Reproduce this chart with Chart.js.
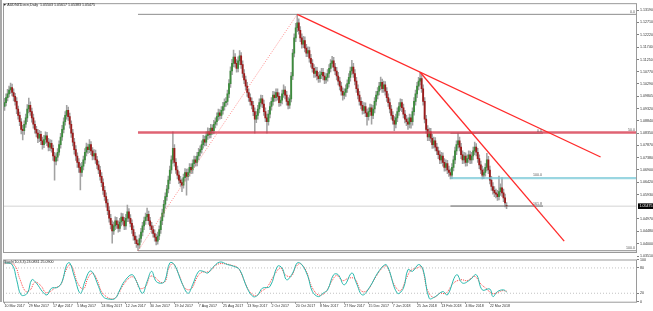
<!DOCTYPE html>
<html>
<head>
<meta charset="utf-8">
<script src="https://cdn.jsdelivr.net/npm/chart.js@4.4.1/dist/chart.umd.min.js"></script>
<style>
  html, body { margin: 0; padding: 0; background: #fff; }
  #wrap { position: relative; width: 653px; height: 311px; overflow: hidden; font-family: "Liberation Sans", Arial, sans-serif; }
  #mainCanvas { position: absolute; left: 0; top: 0; }
  #stochCanvas { position: absolute; left: 0; top: 254px; }
  #edge { position: absolute; left: 0; top: 0; width: 2px; height: 302px; background: #a9a9a9; }
  .hdr { position: absolute; font-size: 3.6px; color: #202020; white-space: nowrap; line-height: 4px; }
</style>
</head>
<body>
<div id="wrap">
  <canvas id="mainCanvas" width="653" height="262"></canvas>
  <canvas id="stochCanvas" width="653" height="57"></canvas>
  <div id="edge"></div>
  <div class="hdr" style="left:3px;top:3px;">▼ AUDNZD.ecn,Daily&nbsp; 1.05503 1.05617 1.05383 1.05475</div>
  <div class="hdr" style="left:4px;top:260px;">Stoch(10,3,3) 23.0831 25.0900</div>
</div>
<script>
// ================= DATA : DAILY CANDLES (bar 0 = 10 Mar 2017) =================
const opens = [
  1.0940, 1.0955, 1.0975, 1.0990, 1.1005, 1.1015, 1.0995, 1.0980, 1.0960, 1.0930,
  1.0905, 1.0880, 1.0850, 1.0845, 1.0870, 1.0895, 1.0930, 1.0945, 1.0920, 1.0895,
  1.0870, 1.0850, 1.0835, 1.0815, 1.0830, 1.0805, 1.0790, 1.0810, 1.0825, 1.0800,
  1.0780, 1.0795, 1.0775, 1.0745, 1.0725, 1.0740, 1.0760, 1.0790, 1.0820, 1.0850,
  1.0880, 1.0905, 1.0925, 1.0900, 1.0870, 1.0835, 1.0800, 1.0770, 1.0745, 1.0720,
  1.0700, 1.0680, 1.0705, 1.0730, 1.0760, 1.0780, 1.0770, 1.0790, 1.0765, 1.0745,
  1.0755, 1.0730, 1.0710, 1.0690, 1.0665, 1.0640, 1.0610, 1.0585, 1.0560, 1.0530,
  1.0500, 1.0475, 1.0450, 1.0470, 1.0490, 1.0475, 1.0460, 1.0485, 1.0505, 1.0490,
  1.0470, 1.0500, 1.0525, 1.0500, 1.0480, 1.0455, 1.0430, 1.0415, 1.0400, 1.0395,
  1.0420, 1.0445, 1.0470, 1.0490, 1.0505, 1.0515, 1.0490, 1.0470, 1.0455, 1.0440,
  1.0425, 1.0410, 1.0430, 1.0455, 1.0490, 1.0520, 1.0555, 1.0585, 1.0615, 1.0650,
  1.0690, 1.0730, 1.0775, 1.0720, 1.0690, 1.0670, 1.0650, 1.0640, 1.0630, 1.0660,
  1.0680, 1.0665, 1.0680, 1.0700, 1.0690, 1.0715, 1.0730, 1.0720, 1.0745, 1.0760,
  1.0770, 1.0790, 1.0810, 1.0800, 1.0825, 1.0840, 1.0830, 1.0855, 1.0845, 1.0870,
  1.0880, 1.0900, 1.0915, 1.0905, 1.0925, 1.0940, 1.0955, 1.0960, 1.0990, 1.1030,
  1.1080, 1.1110, 1.1135, 1.1110, 1.1090, 1.1120, 1.1140, 1.1105, 1.1070, 1.1045,
  1.1020, 1.0995, 1.0975, 1.0960, 1.0945, 1.0920, 1.0890, 1.0905, 1.0930, 1.0955,
  1.0970, 1.0950, 1.0920, 1.0895, 1.0880, 1.0910, 1.0940, 1.0960, 1.0985, 1.0975,
  1.0995, 1.0980, 1.0955, 1.0965, 1.0990, 1.1005, 1.0985, 1.0960, 1.0945, 1.0970,
  1.1060, 1.1150, 1.1210, 1.1250, 1.1270, 1.1240, 1.1210, 1.1185, 1.1200, 1.1170,
  1.1150, 1.1160, 1.1130, 1.1110, 1.1090, 1.1070, 1.1080, 1.1060, 1.1050, 1.1065,
  1.1075, 1.1060, 1.1045, 1.1055, 1.1070, 1.1090, 1.1110, 1.1120, 1.1095, 1.1080,
  1.1060, 1.1040, 1.1020, 1.1000, 1.0985, 1.0995, 1.1010, 1.1030, 1.1055, 1.1080,
  1.1095, 1.1070, 1.1040, 1.1010, 1.0985, 1.0960, 1.0945, 1.0925, 1.0940, 1.0915,
  1.0900, 1.0920, 1.0935, 1.0905, 1.0930, 1.0960, 1.0985, 1.1000, 1.1020, 1.1035,
  1.1010, 1.1025, 1.1000, 1.0975, 1.0955, 1.0930, 1.0905, 1.0885, 1.0870, 1.0895,
  1.0920, 1.0940, 1.0955, 1.0935, 1.0910, 1.0890, 1.0880, 1.0870, 1.0895, 1.0880,
  1.0920, 1.0960, 1.0990, 1.1020, 1.1040, 1.1050, 1.1010, 1.0960, 1.0890, 1.0850,
  1.0820, 1.0840, 1.0815, 1.0790, 1.0805, 1.0780, 1.0765, 1.0750, 1.0730, 1.0745,
  1.0720, 1.0700, 1.0715, 1.0690, 1.0680, 1.0670, 1.0700, 1.0730, 1.0765, 1.0790,
  1.0805, 1.0780, 1.0750, 1.0730, 1.0745, 1.0720, 1.0735, 1.0750, 1.0730, 1.0745,
  1.0765, 1.0780, 1.0760, 1.0735, 1.0710, 1.0690, 1.0670, 1.0680, 1.0700, 1.0730,
  1.0690, 1.0650, 1.0625, 1.0610, 1.0600, 1.0595, 1.0585, 1.0605, 1.0620, 1.0600,
  1.0580, 1.0550
];
const highs = [
  1.0972, 1.0990, 1.1008, 1.1020, 1.1032, 1.1028, 1.1010, 1.0992, 1.0975, 1.0942,
  1.0918, 1.0892, 1.0866, 1.0884, 1.0910, 1.0948, 1.0973, 1.0958, 1.0934, 1.0910,
  1.0884, 1.0862, 1.0850, 1.0846, 1.0842, 1.0820, 1.0826, 1.0840, 1.0838, 1.0815,
  1.0810, 1.0808, 1.0788, 1.0760, 1.0755, 1.0774, 1.0805, 1.0834, 1.0866, 1.0895,
  1.0920, 1.0945, 1.0938, 1.0914, 1.0884, 1.0850, 1.0815, 1.0786, 1.0758, 1.0735,
  1.0715, 1.0720, 1.0745, 1.0774, 1.0796, 1.0792, 1.0810, 1.0802, 1.0778, 1.0770,
  1.0768, 1.0744, 1.0725, 1.0704, 1.0680, 1.0655, 1.0626, 1.0600, 1.0574, 1.0546,
  1.0515, 1.0490, 1.0485, 1.0506, 1.0504, 1.0490, 1.0500, 1.0520, 1.0518, 1.0504,
  1.0515, 1.0552, 1.0538, 1.0514, 1.0494, 1.0470, 1.0444, 1.0430, 1.0414, 1.0435,
  1.0460, 1.0484, 1.0505, 1.0520, 1.0540, 1.0528, 1.0504, 1.0484, 1.0470, 1.0454,
  1.0438, 1.0445, 1.0470, 1.0505, 1.0536, 1.0570, 1.0600, 1.0630, 1.0666, 1.0705,
  1.0746, 1.0840, 1.0790, 1.0735, 1.0705, 1.0684, 1.0665, 1.0655, 1.0674, 1.0696,
  1.0694, 1.0695, 1.0715, 1.0714, 1.0730, 1.0745, 1.0744, 1.0760, 1.0775, 1.0785,
  1.0805, 1.0826, 1.0824, 1.0840, 1.0856, 1.0854, 1.0870, 1.0868, 1.0886, 1.0895,
  1.0915, 1.0930, 1.0928, 1.0940, 1.0956, 1.0970, 1.0975, 1.1005, 1.1046, 1.1096,
  1.1126, 1.1162, 1.1148, 1.1125, 1.1136, 1.1160, 1.1152, 1.1120, 1.1085, 1.1060,
  1.1035, 1.1010, 1.0990, 1.0974, 1.0960, 1.0935, 1.0920, 1.0945, 1.0970, 1.0985,
  1.0984, 1.0965, 1.0935, 1.0910, 1.0925, 1.0955, 1.0975, 1.1000, 1.0998, 1.1010,
  1.1010, 1.0994, 1.0980, 1.1005, 1.1025, 1.1018, 1.1000, 1.0975, 1.0985, 1.1075,
  1.1165, 1.1226, 1.1268, 1.1303, 1.1285, 1.1255, 1.1226, 1.1216, 1.1214, 1.1185,
  1.1175, 1.1174, 1.1145, 1.1125, 1.1105, 1.1095, 1.1094, 1.1075, 1.1080, 1.1090,
  1.1090, 1.1074, 1.1070, 1.1085, 1.1105, 1.1125, 1.1138, 1.1134, 1.1110, 1.1094,
  1.1075, 1.1055, 1.1035, 1.1014, 1.1010, 1.1025, 1.1045, 1.1070, 1.1095, 1.1122,
  1.1110, 1.1085, 1.1055, 1.1025, 1.1000, 1.0975, 1.0960, 1.0955, 1.0954, 1.0930,
  1.0935, 1.0950, 1.0948, 1.0945, 1.0975, 1.1000, 1.1015, 1.1035, 1.1056, 1.1048,
  1.1040, 1.1038, 1.1015, 1.0990, 1.0970, 1.0945, 1.0920, 1.0900, 1.0910, 1.0935,
  1.0955, 1.0970, 1.0968, 1.0950, 1.0925, 1.0905, 1.0895, 1.0910, 1.0908, 1.0935,
  1.0975, 1.1005, 1.1035, 1.1055, 1.1075, 1.1065, 1.1025, 1.0975, 1.0905, 1.0865,
  1.0855, 1.0854, 1.0830, 1.0820, 1.0818, 1.0795, 1.0780, 1.0765, 1.0760, 1.0758,
  1.0735, 1.0730, 1.0728, 1.0705, 1.0695, 1.0715, 1.0745, 1.0780, 1.0805, 1.0835,
  1.0820, 1.0795, 1.0765, 1.0760, 1.0758, 1.0750, 1.0765, 1.0764, 1.0760, 1.0780,
  1.0800, 1.0794, 1.0775, 1.0750, 1.0725, 1.0705, 1.0695, 1.0715, 1.0756, 1.0744,
  1.0705, 1.0665, 1.0640, 1.0625, 1.0615, 1.0610, 1.0666, 1.0635, 1.0660, 1.0615,
  1.0595, 1.0562
];
const lows = [
  1.0925, 1.0942, 1.0962, 1.0978, 1.0992, 1.0982, 1.0962, 1.0945, 1.0912, 1.0890,
  1.0865, 1.0832, 1.0808, 1.0830, 1.0858, 1.0880, 1.0915, 1.0905, 1.0878, 1.0855,
  1.0835, 1.0820, 1.0798, 1.0802, 1.0790, 1.0772, 1.0778, 1.0795, 1.0786, 1.0765,
  1.0766, 1.0760, 1.0728, 1.0650, 1.0710, 1.0726, 1.0748, 1.0776, 1.0806, 1.0836,
  1.0866, 1.0890, 1.0885, 1.0855, 1.0818, 1.0785, 1.0752, 1.0728, 1.0700, 1.0680,
  1.0611, 1.0665, 1.0690, 1.0716, 1.0745, 1.0755, 1.0758, 1.0750, 1.0730, 1.0732,
  1.0716, 1.0695, 1.0675, 1.0650, 1.0624, 1.0594, 1.0570, 1.0544, 1.0514, 1.0484,
  1.0458, 1.0402, 1.0436, 1.0455, 1.0460, 1.0445, 1.0448, 1.0470, 1.0476, 1.0455,
  1.0456, 1.0486, 1.0486, 1.0466, 1.0440, 1.0414, 1.0400, 1.0385, 1.0372, 1.0382,
  1.0406, 1.0430, 1.0455, 1.0476, 1.0490, 1.0476, 1.0455, 1.0440, 1.0425, 1.0410,
  1.0395, 1.0398, 1.0416, 1.0440, 1.0475, 1.0505, 1.0540, 1.0570, 1.0600, 1.0636,
  1.0676, 1.0716, 1.0705, 1.0676, 1.0655, 1.0636, 1.0625, 1.0605, 1.0618, 1.0646,
  1.0591, 1.0650, 1.0666, 1.0675, 1.0676, 1.0700, 1.0705, 1.0706, 1.0730, 1.0745,
  1.0756, 1.0776, 1.0785, 1.0786, 1.0810, 1.0815, 1.0816, 1.0830, 1.0832, 1.0856,
  1.0866, 1.0885, 1.0890, 1.0892, 1.0910, 1.0926, 1.0940, 1.0946, 1.0975, 1.1015,
  1.1065, 1.1096, 1.1095, 1.1075, 1.1076, 1.1105, 1.1090, 1.1055, 1.1030, 1.1005,
  1.0980, 1.0960, 1.0945, 1.0930, 1.0904, 1.0835, 1.0876, 1.0890, 1.0915, 1.0940,
  1.0935, 1.0905, 1.0880, 1.0835, 1.0866, 1.0895, 1.0926, 1.0945, 1.0960, 1.0962,
  1.0965, 1.0940, 1.0942, 1.0950, 1.0976, 1.0970, 1.0945, 1.0930, 1.0932, 1.0958,
  1.1046, 1.1135, 1.1195, 1.1235, 1.1225, 1.1195, 1.1170, 1.1172, 1.1155, 1.1136,
  1.1136, 1.1115, 1.1095, 1.1075, 1.1055, 1.1056, 1.1045, 1.1035, 1.1036, 1.1050,
  1.1045, 1.1030, 1.1032, 1.1040, 1.1055, 1.1076, 1.1095, 1.1080, 1.1065, 1.1045,
  1.1025, 1.1005, 1.0985, 1.0965, 1.0970, 1.0980, 1.0995, 1.1016, 1.1040, 1.1066,
  1.1055, 1.1025, 1.0995, 1.0970, 1.0945, 1.0930, 1.0910, 1.0912, 1.0900, 1.0866,
  1.0886, 1.0905, 1.0870, 1.0892, 1.0915, 1.0945, 1.0970, 1.0986, 1.1005, 1.0995,
  1.0995, 1.0985, 1.0960, 1.0940, 1.0915, 1.0890, 1.0870, 1.0845, 1.0856, 1.0880,
  1.0905, 1.0925, 1.0920, 1.0895, 1.0875, 1.0865, 1.0850, 1.0856, 1.0855, 1.0866,
  1.0906, 1.0945, 1.0975, 1.1005, 1.1025, 1.0995, 1.0945, 1.0875, 1.0835, 1.0805,
  1.0805, 1.0800, 1.0775, 1.0776, 1.0765, 1.0750, 1.0735, 1.0715, 1.0716, 1.0705,
  1.0685, 1.0686, 1.0675, 1.0665, 1.0655, 1.0656, 1.0686, 1.0715, 1.0750, 1.0776,
  1.0765, 1.0735, 1.0715, 1.0716, 1.0705, 1.0706, 1.0720, 1.0715, 1.0716, 1.0730,
  1.0750, 1.0745, 1.0720, 1.0695, 1.0675, 1.0655, 1.0656, 1.0666, 1.0686, 1.0675,
  1.0635, 1.0610, 1.0595, 1.0585, 1.0580, 1.0570, 1.0572, 1.0590, 1.0586, 1.0565,
  1.0545, 1.0538
];
const closes = [
  1.0955, 1.0975, 1.0990, 1.1005, 1.1015, 1.0995, 1.0980, 1.0960, 1.0930, 1.0905,
  1.0880, 1.0850, 1.0845, 1.0870, 1.0895, 1.0930, 1.0945, 1.0920, 1.0895, 1.0870,
  1.0850, 1.0835, 1.0815, 1.0830, 1.0805, 1.0790, 1.0810, 1.0825, 1.0800, 1.0780,
  1.0795, 1.0775, 1.0745, 1.0725, 1.0740, 1.0760, 1.0790, 1.0820, 1.0850, 1.0880,
  1.0905, 1.0925, 1.0900, 1.0870, 1.0835, 1.0800, 1.0770, 1.0745, 1.0720, 1.0700,
  1.0680, 1.0705, 1.0730, 1.0760, 1.0780, 1.0770, 1.0790, 1.0765, 1.0745, 1.0755,
  1.0730, 1.0710, 1.0690, 1.0665, 1.0640, 1.0610, 1.0585, 1.0560, 1.0530, 1.0500,
  1.0475, 1.0450, 1.0470, 1.0490, 1.0475, 1.0460, 1.0485, 1.0505, 1.0490, 1.0470,
  1.0500, 1.0525, 1.0500, 1.0480, 1.0455, 1.0430, 1.0415, 1.0400, 1.0395, 1.0420,
  1.0445, 1.0470, 1.0490, 1.0505, 1.0515, 1.0490, 1.0470, 1.0455, 1.0440, 1.0425,
  1.0410, 1.0430, 1.0455, 1.0490, 1.0520, 1.0555, 1.0585, 1.0615, 1.0650, 1.0690,
  1.0730, 1.0775, 1.0720, 1.0690, 1.0670, 1.0650, 1.0640, 1.0630, 1.0660, 1.0680,
  1.0665, 1.0680, 1.0700, 1.0690, 1.0715, 1.0730, 1.0720, 1.0745, 1.0760, 1.0770,
  1.0790, 1.0810, 1.0800, 1.0825, 1.0840, 1.0830, 1.0855, 1.0845, 1.0870, 1.0880,
  1.0900, 1.0915, 1.0905, 1.0925, 1.0940, 1.0955, 1.0960, 1.0990, 1.1030, 1.1080,
  1.1110, 1.1135, 1.1110, 1.1090, 1.1120, 1.1140, 1.1105, 1.1070, 1.1045, 1.1020,
  1.0995, 1.0975, 1.0960, 1.0945, 1.0920, 1.0890, 1.0905, 1.0930, 1.0955, 1.0970,
  1.0950, 1.0920, 1.0895, 1.0880, 1.0910, 1.0940, 1.0960, 1.0985, 1.0975, 1.0995,
  1.0980, 1.0955, 1.0965, 1.0990, 1.1005, 1.0985, 1.0960, 1.0945, 1.0970, 1.1060,
  1.1150, 1.1210, 1.1250, 1.1270, 1.1240, 1.1210, 1.1185, 1.1200, 1.1170, 1.1150,
  1.1160, 1.1130, 1.1110, 1.1090, 1.1070, 1.1080, 1.1060, 1.1050, 1.1065, 1.1075,
  1.1060, 1.1045, 1.1055, 1.1070, 1.1090, 1.1110, 1.1120, 1.1095, 1.1080, 1.1060,
  1.1040, 1.1020, 1.1000, 1.0985, 1.0995, 1.1010, 1.1030, 1.1055, 1.1080, 1.1095,
  1.1070, 1.1040, 1.1010, 1.0985, 1.0960, 1.0945, 1.0925, 1.0940, 1.0915, 1.0900,
  1.0920, 1.0935, 1.0905, 1.0930, 1.0960, 1.0985, 1.1000, 1.1020, 1.1035, 1.1010,
  1.1025, 1.1000, 1.0975, 1.0955, 1.0930, 1.0905, 1.0885, 1.0870, 1.0895, 1.0920,
  1.0940, 1.0955, 1.0935, 1.0910, 1.0890, 1.0880, 1.0870, 1.0895, 1.0880, 1.0920,
  1.0960, 1.0990, 1.1020, 1.1040, 1.1050, 1.1010, 1.0960, 1.0890, 1.0850, 1.0820,
  1.0840, 1.0815, 1.0790, 1.0805, 1.0780, 1.0765, 1.0750, 1.0730, 1.0745, 1.0720,
  1.0700, 1.0715, 1.0690, 1.0680, 1.0670, 1.0700, 1.0730, 1.0765, 1.0790, 1.0805,
  1.0780, 1.0750, 1.0730, 1.0745, 1.0720, 1.0735, 1.0750, 1.0730, 1.0745, 1.0765,
  1.0780, 1.0760, 1.0735, 1.0710, 1.0690, 1.0670, 1.0680, 1.0700, 1.0730, 1.0690,
  1.0650, 1.0625, 1.0610, 1.0600, 1.0595, 1.0585, 1.0605, 1.0620, 1.0600, 1.0580,
  1.0560, 1.0548
];

// ================= DATA : STOCHASTIC (bar, value) =================
const stochMain = [
  [0, 92], [5, 88], [8, 52], [11, 16], [15, 20], [18, 52], [21, 44], [25, 24], [28, 16], [31, 32],
  [35, 34], [38, 48], [41, 88], [43, 92], [46, 60], [50, 20], [53, 48], [56, 72], [58, 70], [62, 36],
  [65, 12], [69, 6], [73, 8], [76, 28], [79, 48], [84, 64], [87, 48], [91, 20], [94, 48], [97, 72],
  [100, 48], [104, 44], [106, 52], [109, 92], [112, 88], [117, 44], [121, 20], [124, 40], [128, 72], [131, 72],
  [134, 68], [137, 80], [142, 94], [147, 88], [151, 84], [155, 76], [160, 32], [164, 12], [167, 16], [170, 32],
  [175, 36], [180, 84], [183, 80], [186, 52], [190, 68], [193, 92], [196, 88], [200, 60], [203, 24], [207, 12],
  [210, 20], [213, 28], [217, 64], [220, 64], [224, 40], [229, 68], [232, 44], [236, 16], [241, 36], [246, 68],
  [251, 88], [253, 80], [259, 20], [263, 32], [266, 76], [269, 72], [273, 88], [276, 76], [280, 8], [284, 12],
  [289, 24], [292, 16], [298, 64], [302, 44], [307, 52], [311, 64], [315, 28], [320, 30], [322, 12], [325, 24],
  [329, 28], [331, 23]
];
const stochSignal = [
  [0, 90], [3, 91], [7, 85], [10, 55], [14, 24], [17, 28], [20, 46], [24, 38], [27, 22], [30, 24],
  [33, 32], [37, 40], [40, 70], [43, 88], [45, 80], [48, 46], [52, 30], [55, 56], [58, 68], [61, 52],
  [64, 24], [68, 10], [72, 7], [75, 18], [78, 38], [83, 58], [86, 56], [89, 32], [93, 36], [96, 60],
  [99, 58], [103, 46], [106, 48], [108, 76], [111, 90], [115, 64], [119, 32], [123, 30], [127, 58], [130, 70],
  [133, 70], [136, 74], [140, 88], [145, 90], [150, 86], [154, 80], [158, 50], [162, 22], [166, 14], [169, 24],
  [173, 34], [178, 64], [182, 80], [185, 64], [189, 60], [192, 82], [195, 90], [199, 72], [202, 40], [206, 18],
  [209, 16], [212, 24], [216, 50], [219, 62], [223, 50], [227, 56], [231, 54], [235, 26], [239, 26], [244, 54],
  [249, 80], [252, 84], [257, 40], [261, 26], [265, 56], [268, 74], [272, 80], [275, 82], [279, 26], [283, 10],
  [287, 20], [291, 20], [296, 44], [301, 52], [305, 50], [310, 60], [314, 42], [318, 30], [321, 20], [324, 20],
  [328, 26], [331, 25]
];
const stochLevels = [20, 80];

// ================= AXES =================
const xLabels = [
  "10 Mar 2017", "29 Mar 2017", "17 Apr 2017", "5 May 2017", "24 May 2017", "12 Jun 2017", "30 Jun 2017",
  "19 Jul 2017", "7 Aug 2017", "25 Aug 2017", "13 Sep 2017", "2 Oct 2017", "20 Oct 2017", "8 Nov 2017",
  "27 Nov 2017", "15 Dec 2017", "7 Jan 2018", "25 Jan 2018", "13 Feb 2018", "4 Mar 2018", "22 Mar 2018"
];
const barsPerLabel = 16;
const yTicks = [
  1.13190, 1.12710, 1.12220, 1.11740, 1.11250, 1.10770, 1.10290, 1.09805, 1.09320, 1.08840,
  1.08350, 1.07870, 1.07380, 1.06900, 1.06420, 1.05930, 1.04970, 1.04480, 1.04000, 1.03510
];
const stochTicks = [100, 80, 20, 0];
const lastPrice = 1.05475;
const X_MIN = -1, X_MAX = 417;

// ================= OBJECTS : TRENDLINES & FIBO (bar, price) =================
const trendA = [[193, 1.1303], [393, 1.0741]];
const trendB = [[274, 1.1075], [369, 1.0410]];
const fibDiagonal = [[88, 1.0372], [193, 1.1303]];
const fib1Start = 88;
const fib1Prices = [1.1303, 1.08375, 1.0372];
const fib1Labels = ["0.0", "50.0", "100.0"];
const fib2Start = 294, fib2End = 355;
const fib2Prices = [1.0835, 1.0548];
const fib2Labels = ["0.0", "161.8"];
const fib2Base = 1.0658;     // 100.0 level, drawn to the right edge
const fib2BaseLabel = "100.0";

// ================= HELPERS =================
const FONT = "Liberation Sans";
const pts = arr => arr.map(([x, y]) => ({ x, y }));
const hLine = (x0, x1, p) => [{ x: x0, y: p }, { x: x1, y: p }];

function lineSet(data, color, width, dash, order) {
  return {
    type: "line", data, borderColor: color, borderWidth: width,
    borderDash: dash || [], pointRadius: 0, fill: false, order
  };
}

const frame = {
  id: "frame",
  afterDraw(chart) {
    const { ctx, chartArea: a } = chart;
    ctx.save();
    ctx.strokeStyle = "#9a9a9a";
    ctx.lineWidth = 1;
    ctx.strokeRect(a.left + 0.5, a.top + 0.5, a.right - a.left - 1, a.bottom - a.top);
    ctx.restore();
  }
};

// ================= MAIN PRICE CHART =================
const fibText = {
  id: "fibText",
  afterDatasetsDraw(chart) {
    const { ctx, scales: { x, y } } = chart;
    ctx.save();
    ctx.font = "3.6px '" + FONT + "'";
    ctx.fillStyle = "#555";
    ctx.textAlign = "right";
    ctx.textBaseline = "bottom";
    fib1Prices.forEach((p, k) => ctx.fillText(fib1Labels[k], x.getPixelForValue(X_MAX) - 2, y.getPixelForValue(p) - 0.5));
    fib2Prices.forEach((p, k) => ctx.fillText(fib2Labels[k], x.getPixelForValue(fib2End) - 1, y.getPixelForValue(p) - 0.5));
    ctx.fillText(fib2BaseLabel, x.getPixelForValue(fib2End) - 1, y.getPixelForValue(fib2Base) - 1);

    // bid price tag on the axis
    const py = y.getPixelForValue(lastPrice);
    const left = chart.chartArea.right + 1;
    ctx.fillStyle = "#000";
    ctx.fillRect(left, py - 2.8, 653 - left, 5.6);
    ctx.fillStyle = "#fff";
    ctx.textAlign = "left";
    ctx.textBaseline = "middle";
    ctx.fillText(lastPrice.toFixed(5), left + 1.5, py);
    ctx.restore();
  }
};

new Chart(document.getElementById("mainCanvas"), {
  type: "bar",
  data: {
    datasets: [
      lineSet(pts(trendA), "#ff2a2a", 1.3, null, 0),
      lineSet(pts(trendB), "#ff2a2a", 1.3, null, 0),
      lineSet(pts(fibDiagonal), "#ff7070", 0.8, [1, 1.5], 0),
      lineSet(hLine(fib1Start, X_MAX, fib1Prices[0]), "#8c8c8c", 1, null, 0),
      lineSet(hLine(fib1Start, X_MAX, fib1Prices[1]), "rgba(215,60,80,0.8)", 2.6, null, 0),
      lineSet(hLine(fib1Start, X_MAX, fib1Prices[2]), "#8c8c8c", 1, null, 0),
      lineSet(hLine(fib2Start, fib2End, fib2Prices[0]), "#8c7078", 1, null, 0),
      lineSet(hLine(fib2Start, fib2End, fib2Prices[1]), "#6a6a6a", 1, null, 0),
      lineSet(hLine(fib2Start, X_MAX, fib2Base), "rgba(120,200,215,0.75)", 2.4, null, 0),
      lineSet(hLine(X_MIN, X_MAX, lastPrice), "#d4d4d4", 1, null, 4),
      {
        label: "bodies",
        data: opens.map((o, i) => ({ x: i, y: [o, closes[i]] })),
        backgroundColor: opens.map((o, i) => closes[i] >= o ? "#3d8b3d" : "#9b1c1c"),
        barThickness: 1.2, minBarLength: 0.8, grouped: false, order: 1
      },
      {
        label: "wicks",
        data: lows.map((l, i) => ({ x: i, y: [l, highs[i]] })),
        backgroundColor: "#a2a2a2",
        barThickness: 0.9, grouped: false, order: 2
      }
    ]
  },
  options: {
    responsive: false,
    animation: false,
    events: [],
    layout: { padding: { left: 3, top: 3, bottom: 10, right: 0 } },
    plugins: { legend: { display: false }, tooltip: { enabled: false } },
    scales: {
      x: { type: "linear", min: X_MIN, max: X_MAX, display: false, offset: false },
      y: {
        position: "right",
        min: 1.0367, max: 1.1347,
        afterBuildTicks: s => { s.ticks = yTicks.map(v => ({ value: v })); },
        afterFit: s => { s.width = 16; },
        ticks: { autoSkip: false, padding: 1, color: "#303030", font: { family: FONT, size: 3.6 }, callback: v => Number(v).toFixed(5) },
        grid: { drawOnChartArea: false, tickLength: 2, color: "#808080" },
        border: { display: false }
      }
    }
  },
  plugins: [frame, fibText]
});

// ================= STOCHASTIC PANEL =================
new Chart(document.getElementById("stochCanvas"), {
  type: "line",
  data: {
    datasets: [
      lineSet(pts(stochMain), "#2ab8ad", 1, null, 0),
      lineSet(pts(stochSignal), "#ff4040", 1, [1, 1], 1),
      ...stochLevels.map(v => lineSet(hLine(X_MIN, X_MAX, v), "#b4b4b4", 0.8, [1, 2], 2))
    ].map((d, k) => k < 2 ? Object.assign(d, { tension: 0.4 }) : d)
  },
  options: {
    responsive: false,
    animation: false,
    events: [],
    layout: { padding: { left: 3, top: 5.5, bottom: 0, right: 0 } },
    plugins: { legend: { display: false }, tooltip: { enabled: false } },
    scales: {
      x: {
        type: "linear", min: X_MIN, max: X_MAX,
        afterBuildTicks: s => { s.ticks = xLabels.map((_, k) => ({ value: k * barsPerLabel })); },
        afterFit: s => { s.height = 9.3; },
        ticks: {
          autoSkip: false, maxRotation: 0, align: "start", padding: 0.5,
          color: "#303030", font: { family: FONT, size: 3.6 },
          callback: (v, i) => xLabels[i]
        },
        grid: { drawOnChartArea: false, tickLength: 2, color: "#808080" },
        border: { display: false }
      },
      y: {
        position: "right", min: 0, max: 100,
        afterBuildTicks: s => { s.ticks = stochTicks.map(v => ({ value: v })); },
        afterFit: s => { s.width = 16; },
        ticks: { autoSkip: false, padding: 1, color: "#303030", font: { family: FONT, size: 3.6 } },
        grid: { drawOnChartArea: false, tickLength: 2, color: "#808080" },
        border: { display: false }
      }
    }
  },
  plugins: [frame]
});
</script>
</body>
</html>
